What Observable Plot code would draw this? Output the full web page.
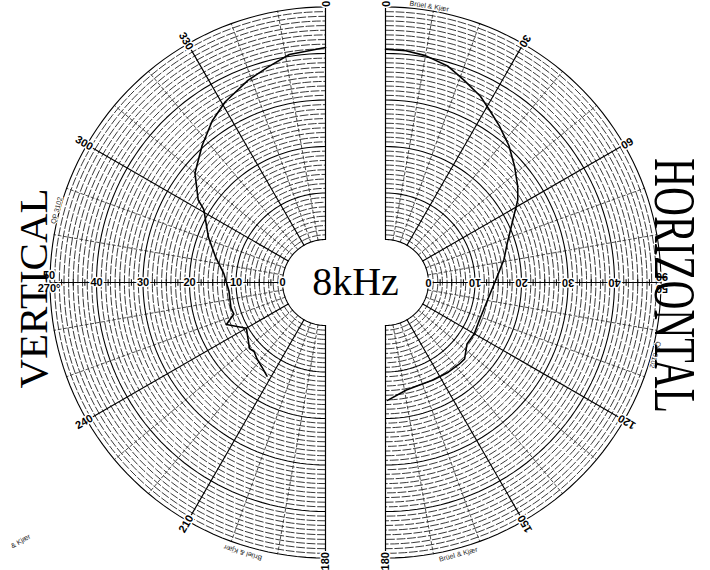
<!DOCTYPE html>
<html><head><meta charset="utf-8">
<script src="https://cdn.jsdelivr.net/npm/d3@7"></script>
<script src="https://cdn.jsdelivr.net/npm/@observablehq/plot@0.6"></script>
<style>body{margin:0;background:#fff}svg{display:block}</style>
</head><body><div id="chart"></div>
<script>
// Vertical polar response (left half), angle in degrees (clockwise from top), level in dB
const vertAngles = [360, 351, 345, 339, 331, 325, 318, 310, 303, 301, 291, 283, 275, 265, 255, 251, 247, 240, 229, 226, 222, 217, 212];
const vertLevels = [41.3, 40.4, 38.7, 37.3, 35.2, 33.2, 30.4, 27.4, 23.4, 21.3, 17.7, 15.0, 12.7, 11.6, 11.8, 11.6, 13.9, 10.4, 12.4, 12.1, 12.8, 13.5, 14.5];
// Horizontal polar response (right half)
const horizAngles = [0, 5, 10, 16, 21, 27, 31, 36, 42, 48, 54, 58, 64, 72, 79, 87, 96, 111, 120, 127, 134, 138, 145, 154, 162, 169, 179];
const horizLevels = [40.9, 40.8, 40.3, 39.2, 37.5, 35.7, 34.1, 32.4, 30.4, 28.1, 25.9, 24.3, 21.2, 18.3, 16.7, 14.8, 13.4, 12.5, 12.8, 12.7, 14.4, 14.4, 14.3, 14.1, 14.0, 14.3, 16.1];

const angleTicksVert = [360, 330, 300, 240, 210, 180];
const angleLabelsVert = ["0", "330", "300", "240", "210", "180"];
const angleTicksHoriz = [0, 30, 60, 120, 150, 180];
const angleLabelsHoriz = ["0", "30", "60", "120", "150", "180"];
const sideAngleLabels = ["270°", "90"];
const levelTicks = [0, 10, 20, 30, 40];
const levelLabels = ["0", "10", "20", "30", "40"];
const edgeLevelLabel = ["50"];
const frequencyLabel = ["8kHz"];
const leftTitle = ["VERTICAL"];
const rightTitle = ["HORIZONTAL"];
const paperLabels = ["Brüel & Kjær", "QP 3102", "QP 0102", "Brüel & Kjær", "Brüel & Kjær"];

// geometry of the polar paper (in dB units)
const PX = 4.65;          // pixels per dB
const R0 = 43 / PX;       // inner hole radius
const G = 30 / PX;        // half gap between the two half-discs
const RANGE = 50;
function pol(side, a, L) {
  const r = R0 + L, t = a * Math.PI / 180;
  return {x: side * G + r * Math.sin(t), y: r * Math.cos(t)};
}

// grid construction
const arcsMinor = [], arcsMajor = [], radMinor = [], radMajor = [], axisTicks = [];
for (const side of [-1, 1]) {
  const a0 = side < 0 ? 180 : 0;
  for (let L = 0; L <= RANGE; L++) {
    const major = L % 10 === 0;
    const target = major ? arcsMajor : arcsMinor;
    for (let a = a0; a <= a0 + 180; a += 2) target.push({...pol(side, a, L), k: side + ":" + L});
  }
  for (let a = a0; a <= a0 + 180; a += 10) {
    const target = a % 30 === 0 ? radMajor : radMinor;
    for (const L of [0, RANGE]) target.push({...pol(side, a, L), k: side + ":" + a});
  }
  for (let L = 2.5; L < RANGE; L += 2.5) {
    if (L % 10 === 0) continue;
    const p = pol(side, side < 0 ? 270 : 90, L);
    axisTicks.push({x: p.x, y1: p.y - 0.7, y2: p.y + 0.7});
  }
}
const vert = vertAngles.map((a, i) => pol(-1, a, vertLevels[i]));
const horiz = horizAngles.map((a, i) => pol(1, a, horizLevels[i]));

const angLabV = angleTicksVert.map((a, i) => ({...pol(-1, a, 50.7), t: angleLabelsVert[i], r: a - 270}));
const angLabH = angleTicksHoriz.map((a, i) => ({...pol(1, a, 50.7), t: angleLabelsHoriz[i], r: a - 270}));
const lvlLabV = levelTicks.map((L, i) => ({...pol(-1, 270, L), t: levelLabels[i]}));
const lvlLabH = levelTicks.map((L, i) => ({...pol(1, 90, L), t: levelLabels[i]}));
const edgeV = {...pol(-1, 270, 50.2)}, edgeH = {...pol(1, 90, 50.2)};
const paperPos = [
  {...pol(1, 9, 50.9), r: 9},
  {...pol(-1, 285, 50.6), r: -75},
  {...pol(1, 105, 50.8), r: 105},
  {...pol(-1, 197, 51.5), r: 197},
  {...pol(1, 165, 51.3), r: -15}
].map((d, i) => ({...d, t: paperLabels[i]}));

const serif = "Liberation Serif, Times New Roman, serif";
const sans = "Liberation Sans, Arial, sans-serif";
const lab = {fontSize: 11, fontWeight: "bold", fontFamily: sans, fill: "#000", stroke: "white", strokeWidth: 3};

const chart = Plot.plot({
  width: 710, height: 570, margin: 0,
  x: {domain: [-355 / PX, 355 / PX], axis: null},
  y: {domain: [-288 / PX, 282 / PX], axis: null},
  marks: [
    Plot.line(arcsMinor, {x: "x", y: "y", z: "k", stroke: "#151515", strokeWidth: 0.85, strokeDasharray: "8,2.5"}),
    Plot.line(radMinor, {x: "x", y: "y", z: "k", stroke: "#222", strokeWidth: 0.8, strokeDasharray: "3,2.5"}),
    Plot.line(arcsMajor, {x: "x", y: "y", z: "k", stroke: "#000", strokeWidth: 1.1}),
    Plot.line(radMajor, {x: "x", y: "y", z: "k", stroke: "#000", strokeWidth: 1.2}),
    Plot.link(axisTicks, {x1: "x", x2: "x", y1: "y1", y2: "y2", stroke: "#000", strokeWidth: 1}),
    Plot.line(vert, {x: "x", y: "y", stroke: "#000", strokeWidth: 1.6}),
    Plot.line(horiz, {x: "x", y: "y", stroke: "#000", strokeWidth: 1.6}),
    Plot.text(lvlLabV, {x: "x", y: "y", text: "t", ...lab}),
    Plot.text(lvlLabH, {x: "x", y: "y", text: "t", rotate: 180, ...lab}),
    Plot.text(edgeLevelLabel, {x: () => edgeV.x, y: () => edgeV.y, text: d => d, dy: -7, ...lab}),
    Plot.text(edgeLevelLabel, {x: () => edgeH.x, y: () => edgeH.y, text: d => d, dy: 6, rotate: 180, ...lab}),
    Plot.text([sideAngleLabels[0]], {x: () => edgeV.x, y: () => edgeV.y, text: d => d, dy: 6, ...lab}),
    Plot.text([sideAngleLabels[1]], {x: () => edgeH.x, y: () => edgeH.y, text: d => d, dy: -6, rotate: 180, ...lab}),
    Plot.text(angLabV, {x: "x", y: "y", text: "t", rotate: "r", ...lab}),
    Plot.text(angLabH, {x: "x", y: "y", text: "t", rotate: "r", ...lab}),
    Plot.text(paperPos, {x: "x", y: "y", text: "t", rotate: "r", fontSize: 7, fontFamily: sans, fill: "#222", stroke: "white", strokeWidth: 2}),
    Plot.text(frequencyLabel, {x: () => 0, y: () => 0, text: d => d, fontSize: 40, fontFamily: serif, fill: "#000"}),
    Plot.text(leftTitle, {frameAnchor: "left", textAnchor: "middle", dx: 34, dy: 3, text: d => d, rotate: -90, fontSize: 40, fontFamily: serif, fill: "#000"}),
    Plot.text(rightTitle, {frameAnchor: "right", textAnchor: "middle", dx: -36, dy: 0, text: d => d, rotate: 90, fontSize: 60, fontFamily: serif, fill: "#000"}),
    Plot.text(["& Kjær"], {frameAnchor: "bottom-left", dx: 12, dy: -22, text: d => d, rotate: -30, fontSize: 7, fontFamily: sans, fill: "#222"})
  ]
});
document.getElementById("chart").appendChild(chart);
// condense the big side titles like the printed lettering
d3.select(chart).selectAll("text").each(function() {
  const s = this.textContent;
  if (s === "HORIZONTAL") { this.setAttribute("textLength", 255); this.setAttribute("lengthAdjust", "spacingAndGlyphs"); }
  if (s === "VERTICAL") { this.setAttribute("textLength", 200); this.setAttribute("lengthAdjust", "spacingAndGlyphs"); }
});
</script>
</body></html>
